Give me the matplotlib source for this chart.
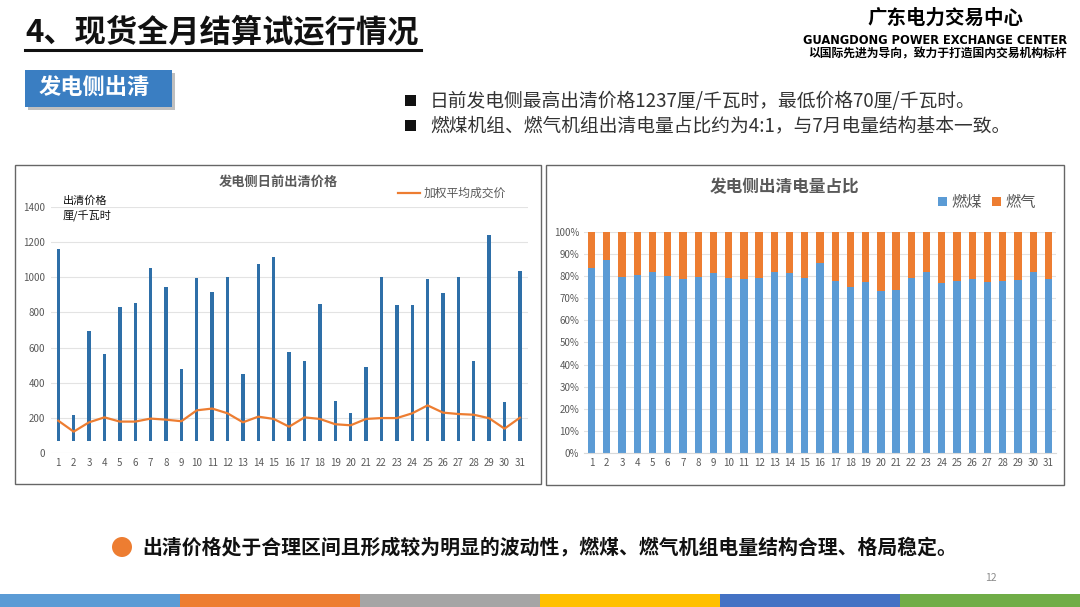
import numpy as np
import matplotlib
matplotlib.use("Agg")
import matplotlib.pyplot as plt
from matplotlib.patches import Rectangle, Circle

plt.rcParams['font.family'] = ['Noto Sans CJK SC', 'DejaVu Sans']

# 数据
days = list(range(1, 32))
price_high = [1160, 217, 696, 562, 830, 851, 1054, 942, 477, 995, 916, 999, 450, 1077, 1112,
              575, 526, 848, 299, 227, 492, 999, 840, 844, 990, 912, 999, 526, 1237, 291, 1033]
price_low = [70, 70, 70, 70, 70, 70, 70, 70, 70, 70, 70, 70, 70, 70, 70,
             70, 70, 70, 70, 70, 70, 70, 70, 70, 70, 70, 70, 70, 70, 70, 70]
avg_price = [185, 123, 176, 204, 180, 180, 197, 191, 182, 244, 254, 227, 176, 208, 195,
             151, 204, 195, 165, 159, 195, 200, 200, 227, 272, 231, 223, 219, 199, 140, 202]
coal_share = [83.6, 87.2, 79.7, 80.3, 81.7, 80.2, 78.6, 79.4, 81.5, 79.2, 78.6, 78.9, 81.8, 81.4, 79.1,
              85.7, 77.9, 75.2, 77.3, 73.4, 73.7, 78.9, 82.0, 77.0, 77.7, 78.5, 77.1, 77.7, 78.0, 81.8, 78.5]
gas_share = [100 - c for c in coal_share]
stripe_colors = ['#5B9BD5', '#ED7D31', '#A5A5A5', '#FFC000', '#4472C4', '#70AD47']

W, H = 1080, 607
fig = plt.figure(figsize=(10.8, 6.07), dpi=100)


def fx(x):
    return x / W


def fy(y):
    return 1 - y / H


def box(x0, y0, x1, y1, **kw):
    fig.patches.append(Rectangle((fx(x0), fy(y1)), fx(x1 - x0), (y1 - y0) / H,
                                 transform=fig.transFigure, **kw))


# 页眉
fig.text(fx(25), fy(32), "4、现货全月结算试运行情况", fontsize=22.5, fontweight='bold',
         va='center', ha='left', color='#111111')
fig.add_artist(plt.Line2D([fx(25), fx(421)], [fy(50), fy(50)], color='#111111', lw=2.2))
fig.text(fx(945), fy(18), "广东电力交易中心", fontsize=14, fontweight='bold', ha='center', va='center')
fig.text(fx(1067), fy(40), "GUANGDONG POWER EXCHANGE CENTER", fontsize=8.3, fontweight='bold',
         ha='right', va='center', family=['DejaVu Sans'])
fig.text(fx(1067), fy(54), "以国际先进为导向，致力于打造国内交易机构标杆", fontsize=8.5,
         fontweight='bold', ha='right', va='center')

# 蓝色标签
box(28, 73, 175, 110, facecolor='#BFBFBF', edgecolor='none')
box(25, 70, 172, 107, facecolor='#3A7EC2', edgecolor='none')
fig.text(fx(94), fy(88), "发电侧出清", fontsize=16, fontweight='bold', color='white',
         ha='center', va='center')

# 要点
bullets = ["日前发电侧最高出清价格1237厘/千瓦时，最低价格70厘/千瓦时。",
           "燃煤机组、燃气机组出清电量占比约为4:1，与7月电量结构基本一致。"]
for i, t in enumerate(bullets):
    yy = 101 + i * 25
    box(405, yy - 6, 416, yy + 5, facecolor='#111111', edgecolor='none')
    fig.text(fx(430), fy(yy), t, fontsize=13.5, color='#333333', ha='left', va='center')

# 图表边框
box(15, 165, 541, 484, facecolor='none', edgecolor='#666666', lw=1)
box(546, 165, 1064, 485, facecolor='none', edgecolor='#666666', lw=1)

# 左图：出清价格
ax1 = fig.add_axes([fx(50.6), fy(453.3), fx(477), 246.6 / H])
ranges = [h - l for h, l in zip(price_high, price_low)]
ax1.bar(days, ranges, bottom=price_low, width=0.22, color='#2E6FA8', zorder=2)
ax1.plot(days, avg_price, color='#ED7D31', lw=1.6, zorder=3, label='加权平均成交价')
ax1.set_xlim(0.5, 31.5)
ax1.set_ylim(0, 1400)
ax1.set_yticks(range(0, 1401, 200))
ax1.set_xticks(days)
ax1.tick_params(axis='both', length=0, labelsize=7, labelcolor='#595959')
ax1.tick_params(axis='y', pad=4)
ax1.grid(axis='y', color='#E3E3E3', lw=0.8, zorder=0)
for s in ax1.spines.values():
    s.set_visible(False)
ax1.set_facecolor('none')
fig.text(fx(278), fy(182), "发电侧日前出清价格", fontsize=9.5, fontweight='bold', color='#595959',
         ha='center', va='center')
fig.add_artist(plt.Line2D([fx(398), fx(420)], [fy(193), fy(193)], color='#ED7D31', lw=1.6))
fig.text(fx(424), fy(193), "加权平均成交价", fontsize=8.5, color='#595959', ha='left', va='center')
fig.text(fx(63), fy(201), "出清价格", fontsize=8, color='#111111', ha='left', va='center')
fig.text(fx(63), fy(215), "厘/千瓦时", fontsize=8, color='#111111', ha='left', va='center')

# 右图：电量占比
ax2 = fig.add_axes([fx(584), fy(453.3), fx(472), 221.6 / H])
ax2.bar(days, coal_share, width=0.48, color='#5B9BD5', zorder=2, label='燃煤')
ax2.bar(days, gas_share, bottom=coal_share, width=0.48, color='#ED7D31', zorder=2, label='燃气')
ax2.set_xlim(0.5, 31.5)
ax2.set_ylim(0, 100)
ax2.set_yticks(range(0, 101, 10))
ax2.set_yticklabels([f"{v}%" for v in range(0, 101, 10)])
ax2.set_xticks(days)
ax2.tick_params(axis='both', length=0, labelsize=7, labelcolor='#595959')
ax2.grid(axis='y', color='#E3E3E3', lw=0.8, zorder=0)
for s in ax2.spines.values():
    s.set_visible(False)
ax2.spines['bottom'].set_visible(True)
ax2.spines['bottom'].set_color('#D9D9D9')
ax2.set_facecolor('none')
fig.text(fx(785), fy(187), "发电侧出清电量占比", fontsize=12, fontweight='bold', color='#595959',
         ha='center', va='center')
for xx, lab, c in [(943, '燃煤', '#5B9BD5'), (997, '燃气', '#ED7D31')]:
    box(xx - 5, 197, xx + 4, 206, facecolor=c, edgecolor='none')
    fig.text(fx(xx + 8), fy(202), lab, fontsize=11, color='#595959', ha='left', va='center')

# 底部结论
circ = Circle((122 / 100, (H - 547) / 100), 0.1, transform=fig.dpi_scale_trans,
              facecolor='#ED7D31', edgecolor='none')
fig.patches.append(circ)
fig.text(fx(142), fy(547), "出清价格处于合理区间且形成较为明显的波动性，燃煤、燃气机组电量结构合理、格局稳定。",
         fontsize=14.3, fontweight='bold', color='#111111', ha='left', va='center')
fig.text(fx(991), fy(578), "12", fontsize=7.5, color='#8C8C8C', ha='center', va='center')

# 底部色条
for i, c in enumerate(stripe_colors):
    box(i * 180, 594, (i + 1) * 180, 607, facecolor=c, edgecolor='none')

fig.savefig("out.png", dpi=100)
